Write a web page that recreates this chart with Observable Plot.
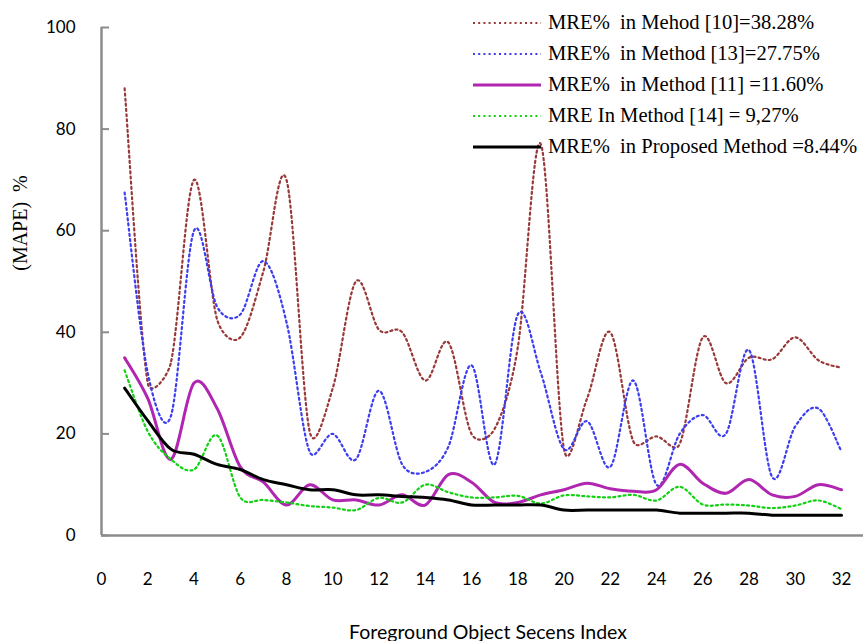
<!DOCTYPE html>
<html>
<head>
<meta charset="utf-8">
<script src="https://cdn.jsdelivr.net/npm/d3@7"></script>
<script src="https://cdn.jsdelivr.net/npm/@observablehq/plot@0.6"></script>
<style>
  body { margin: 0; background: #fff; }
  #wrap { position: relative; width: 863px; height: 641px; overflow: hidden; }
  #legend { position: absolute; left: 473px; top: 7px; font-family: "Liberation Serif", "Times New Roman", serif; font-size: 20.6px; color: #000; }
  .row { display: flex; align-items: center; height: 31px; white-space: pre; }
  .row svg { margin-right: 7px; }
  #xtitle { position: absolute; left: 488px; top: 631px; transform: translate(-50%, -50%); white-space: pre; font-family: Lato, "Open Sans", sans-serif; font-size: 19.5px; color: #000; }
  #ytitle { position: absolute; left: 20px; top: 223px; transform: translate(-50%, -50%) rotate(-90deg); font-family: "Liberation Serif", "Times New Roman", serif; font-size: 20px; white-space: pre; color: #000; }
</style>
</head>
<body>
<div id="wrap">
  <div id="chart"></div>
  <div id="legend"></div>
  <div id="xtitle">Foreground Object Secens Index</div>
  <div id="ytitle">(MAPE)  %</div>
</div>
<script>
// Scene index (categories)
const sceneIndex = [1,2,3,4,5,6,7,8,9,10,11,12,13,14,15,16,17,18,19,20,21,22,23,24,25,26,27,28,29,30,31,32];

// Series values (MAPE %)
const method10 = [88, 30, 34, 70, 42.5, 39, 52, 70, 20.5, 29, 50, 40.5, 40, 30.5, 38, 20, 21, 37, 77, 17, 27, 40, 18.5, 19.5, 18, 39, 30, 35, 34.7, 39, 34.5, 33];
const method13 = [67.5, 32, 23.5, 60, 45, 43.5, 54, 42, 16.5, 20, 15, 28.5, 14, 12.5, 17.5, 33.5, 14, 43.5, 32, 17, 22.5, 13.5, 30.5, 10, 20, 23.7, 20, 36.5, 11.5, 21.5, 25, 16.5];
const method11 = [35, 27, 15, 30, 25, 13.5, 10.5, 6, 10, 7, 7, 6, 8, 6, 12, 10.5, 6.5, 6.5, 8, 9, 10.3, 9.2, 8.7, 9, 14, 10.3, 8.3, 11, 8, 7.7, 10, 9];
const method14 = [32.5, 20.5, 15, 13, 19.7, 7.5, 7, 6.5, 5.8, 5.5, 5, 7.4, 6.5, 10, 8.5, 7.5, 7.5, 7.8, 6.3, 7.9, 7.7, 7.5, 8, 6.9, 9.6, 6.1, 6.1, 5.9, 5.4, 5.9, 6.9, 5.2];
const proposed = [29, 22.6, 17, 16, 14, 13, 11, 10, 9, 9, 8, 8, 7.7, 7.5, 7, 6, 6, 6, 6, 5, 5, 5, 5, 5, 4.4, 4.4, 4.4, 4.4, 4, 4, 4, 4];

// Legend labels
const seriesNames = [
  "MRE%  in Mehod [10]=38.28%",
  "MRE%  in Method [13]=27.75%",
  "MRE%  in Method [11] =11.60%",
  "MRE In Method [14] = 9,27%",
  "MRE%  in Proposed Method =8.44%"
];

// Tick labels
const xTicks = [0,2,4,6,8,10,12,14,16,18,20,22,24,26,28,30,32];
const yTicks = [0,20,40,60,80,100];

const styles = [
  {color: "#993838", dash: "2 3.2", width: 2.2},
  {color: "#3d3df0", dash: "2 3.2", width: 2.2},
  {color: "#b026b0", dash: null, width: 3},
  {color: "#12d012", dash: "2 3.2", width: 2.2},
  {color: "#000000", dash: null, width: 3}
];
const allValues = [method10, method13, method11, method14, proposed];

const series = seriesNames.map((name, i) => ({
  name, ...styles[i],
  data: sceneIndex.map((x, j) => ({x, v: allValues[i][j]}))
}));

// Spreadsheet-style smoothed line (Bezier with arms limited to half a chord)
function smoothCurve(context) {
  let pts = [];
  const dist = (a, b) => Math.hypot(b[0] - a[0], b[1] - a[1]);
  return {
    areaStart() {}, areaEnd() {},
    lineStart() { pts = []; },
    point(x, y) { pts.push([+x, +y]); },
    lineEnd() {
      const n = pts.length;
      if (!n) return;
      context.moveTo(pts[0][0], pts[0][1]);
      for (let i = 0; i < n - 1; i++) {
        const p0 = pts[Math.max(0, i - 1)], p1 = pts[i], p2 = pts[i + 1], p3 = pts[Math.min(n - 1, i + 2)];
        const d12 = dist(p1, p2), d02 = dist(p0, p2), d13 = dist(p1, p3);
        let f1 = 1 / 6, f2 = 1 / 6;
        if (d02 > 0 && d02 / 6 >= d12 / 2) f1 = d12 / d02 / 2;
        if (d13 > 0 && d13 / 6 >= d12 / 2) f2 = d12 / d13 / 2;
        context.bezierCurveTo(
          p1[0] + (p2[0] - p0[0]) * f1, p1[1] + (p2[1] - p0[1]) * f1,
          p2[0] - (p3[0] - p1[0]) * f2, p2[1] - (p3[1] - p1[1]) * f2,
          p2[0], p2[1]);
      }
    }
  };
}

const axisColor = "#8c8c8c";

const chart = Plot.plot({
  width: 863,
  height: 641,
  marginLeft: 101,
  marginRight: 0,
  marginTop: 27,
  marginBottom: 106,
  style: {fontFamily: "Lato, 'Open Sans', sans-serif", fontSize: "17px", color: "#000", background: "#fff"},
  x: {domain: [0, 32.95]},
  y: {domain: [0, 100]},
  marks: [
    ...series.map(s => Plot.line(s.data, {
      x: "x", y: "v", stroke: s.color, strokeWidth: s.width,
      strokeDasharray: s.dash || undefined, curve: smoothCurve
    })),
    Plot.ruleX([0], {y1: 0, y2: 100, stroke: axisColor, strokeWidth: 2.5}),
    Plot.ruleY([0], {stroke: axisColor, strokeWidth: 2.5}),
    Plot.axisY(yTicks, {tickSize: 0, tickPadding: 26, fontSize: 17, label: null, fill: "#000"}),
    Plot.axisY(yTicks, {tickSize: 8, text: null, dx: 8, stroke: axisColor, strokeWidth: 2, label: null}),
    Plot.axisX(xTicks, {tickSize: 0, tickPadding: 37, fontSize: 17, label: null, fill: "#000"})
  ]
});
document.getElementById("chart").appendChild(chart);

// Legend
const legend = d3.select("#legend");
series.forEach(s => {
  const row = legend.append("div").attr("class", "row");
  const sv = row.append("svg").attr("width", 68).attr("height", 8);
  sv.append("line").attr("x1", 0).attr("x2", 68).attr("y1", 4).attr("y2", 4)
    .attr("stroke", s.color).attr("stroke-width", s.width)
    .attr("stroke-dasharray", s.dash);
  row.append("span").text(s.name);
});
</script>
</body>
</html>
